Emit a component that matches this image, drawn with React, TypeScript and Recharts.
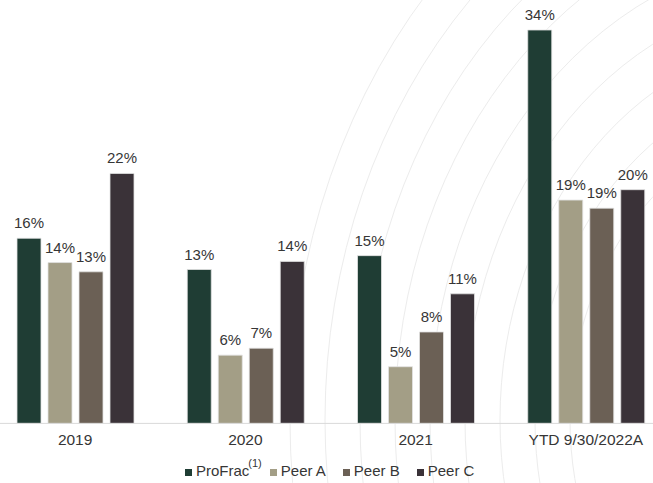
import { BarChart, Bar, XAxis, YAxis, LabelList } from "recharts";

const categories = ["2019", "2020", "2021", "YTD 9/30/2022A"];
const proFrac = [16.0, 13.3, 14.5, 34.0];
const peerA = [13.9, 5.9, 4.9, 19.3];
const peerB = [13.1, 6.5, 7.9, 18.6];
const peerC = [21.6, 14.0, 11.2, 20.2];

const seriesNames = ["ProFrac", "Peer A", "Peer B", "Peer C"];
const seriesColors = ["#1f3d34", "#a39e86", "#6b6055", "#3a3238"];

// faint decorative contour lines in the background
const arcRadii = [250, 285, 320, 355, 390, 425, 460, 495, 530];

const data = categories.map((name, i) => ({
  name,
  proFrac: proFrac[i],
  peerA: peerA[i],
  peerB: peerB[i],
  peerC: peerC[i],
}));

const keys = ["proFrac", "peerA", "peerB", "peerC"];
const font = "'Liberation Sans', Arial, sans-serif";
const textColor = "#363636";

export default function App() {
  return (
    <div
      style={{
        position: "absolute",
        left: 0,
        top: 0,
        width: 653,
        height: 483,
        overflow: "hidden",
        background: "#fff",
        fontFamily: font,
      }}
    >
      <svg width={653} height={483} style={{ position: "absolute", left: 0, top: 0 }}>
        {arcRadii.map(r => (
          <ellipse
            key={r}
            cx={820}
            cy={420}
            rx={r}
            ry={r * 1.2}
            fill="none"
            stroke="#ececec"
            strokeWidth={1}
          />
        ))}
      </svg>

      <div style={{ position: "absolute", left: -10, top: 0 }}>
        <BarChart
          width={681}
          height={483}
          data={data}
          barSize={24}
          barGap={7}
          margin={{ top: 30, right: 0, left: 0, bottom: 29.6 }}
        >
          <XAxis
            dataKey="name"
            height={30}
            tickLine={false}
            tickMargin={5}
            axisLine={{ stroke: "#d9d9d9" }}
            tick={{ fill: textColor, fontSize: 15.5, fontFamily: font }}
          />
          <YAxis hide domain={[0, 34]} />
          {keys.map((k, i) => (
            <Bar
              key={k}
              dataKey={k}
              fill={seriesColors[i]}
              stroke="#e2e2e2"
              strokeWidth={0.8}
              isAnimationActive={false}
            >
              <LabelList
                dataKey={k}
                position="top"
                offset={10}
                formatter={(v: any) => `${Math.round(Number(v))}%`}
                style={{ fill: textColor, fontSize: 15, fontFamily: font }}
              />
            </Bar>
          ))}
        </BarChart>
      </div>

      <div
        style={{
          position: "absolute",
          left: 185,
          top: 461,
          display: "flex",
          alignItems: "baseline",
          fontSize: 15,
          lineHeight: "20px",
          color: textColor,
          whiteSpace: "nowrap",
        }}
      >
        {seriesNames.map((n, i) => (
          <span key={n} style={{ display: "flex", alignItems: "baseline", marginRight: i === 0 ? 8 : 17 }}>
            <span
              style={{
                display: "inline-block",
                width: 7,
                height: 7,
                background: seriesColors[i],
                marginRight: 4,
              }}
            />
            <span>{n}</span>
            {i === 0 && (
              <span style={{ fontSize: 11, position: "relative", top: -9, marginLeft: -1 }}>(1)</span>
            )}
          </span>
        ))}
      </div>
    </div>
  );
}
